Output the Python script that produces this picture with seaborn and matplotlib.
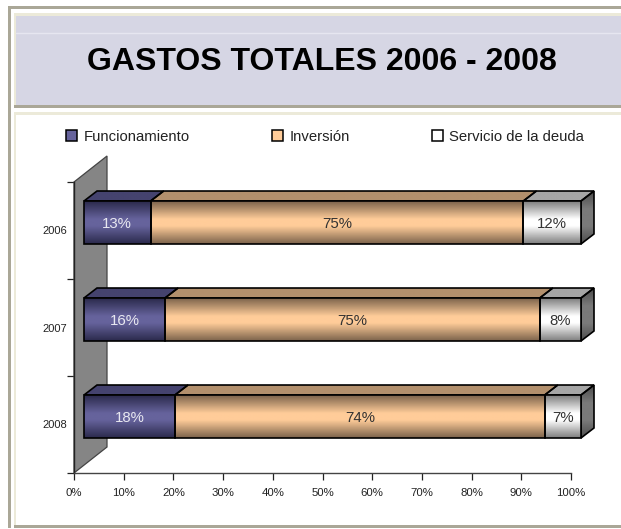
import matplotlib
matplotlib.use("Agg")
import matplotlib.pyplot as plt
import matplotlib.transforms as mtrans
from matplotlib.colors import LinearSegmentedColormap
from matplotlib.patches import Patch, Polygon, Rectangle
import numpy as np
import pandas as pd
import seaborn as sns

years = ["2006", "2007", "2008"]
funcionamiento = [13.4, 16.3, 18.3]
inversion = [75.0, 75.4, 74.4]
servicio = [11.6, 8.3, 7.3]
series_names = ["Funcionamiento", "Inversión", "Servicio de la deuda"]
title = "GASTOS TOTALES 2006 - 2008"

# Colores: (borde, centro, cara superior, color de texto)
styles = [
    ("#2b2a4c", "#66639c", "#45436f", "#e8e8f0"),
    ("#7d644c", "#ffcc99", "#b3906d", "#333333"),
    ("#7f7f7f", "#ffffff", "#a6a6a6", "#333333"),
]

W, H = 621, 529
sns.set_theme(style="white")
plt.rcParams["font.family"] = ["Liberation Sans", "DejaVu Sans"]

fig = plt.figure(figsize=(W / 100, H / 100), dpi=100, facecolor="white")

# Fondo de los paneles en pixeles
bg = fig.add_axes([0, 0, 1, 1], zorder=0)
bg.set_xlim(0, W)
bg.set_ylim(H, 0)
bg.axis("off")
gray = "#aaa797"
cream = "#ecead9"
bg.add_patch(Rectangle((8, 6), W - 8, 2.5, color=gray, lw=0))
bg.add_patch(Rectangle((8, 6), 2.5, H - 7, color=gray, lw=0))
bg.add_patch(Rectangle((14, 13), W - 14, 92, color=cream, lw=0))
bg.add_patch(Rectangle((16, 16), W - 16, 89, color="#d6d6e4", lw=0))
bg.add_line(plt.Line2D([16, W], [33, 33], color="#e6e6f0", lw=1))
bg.add_patch(Rectangle((14, 105), W - 14, 2.5, color=gray, lw=0))
bg.add_patch(Rectangle((14, 112), W - 14, 3, color=cream, lw=0))
bg.add_patch(Rectangle((14, 112), 2, 415, color=cream, lw=0))
bg.add_patch(Rectangle((14, 525), W - 14, 2.5, color=gray, lw=0))
bg.text(322, 62.5, title, ha="center", va="center", fontsize=23, fontweight="bold",
        color="black")

# Eje principal: 0% en x=74, 100% en x=571, y de 182 a 473
x0, x1, y0, y1 = 74, 571, 182, 473
ax = fig.add_axes([x0 / W, 1 - y1 / H, (x1 - x0) / W, (y1 - y0) / H], zorder=1)
ax.patch.set_alpha(0)

table = pd.DataFrame({"year": years, series_names[0]: funcionamiento,
                      series_names[1]: inversion, series_names[2]: servicio})
left = np.zeros(len(years))
for name, style in zip(series_names, styles):
    sns.barplot(data=table, x=name, y="year", orient="y", color=style[1],
                saturation=1, width=0.443, left=left, ax=ax)
    left = left + table[name].values

ax.set_xlim(0, 100)
ax.set_ylim(2.5, -0.5)
ax.set_xlabel("")
ax.set_ylabel("")

# Proyeccion 3D en pixeles -> datos
px_x = 100 / (x1 - x0)
px_y = 3 / (y1 - y0)
bar_tr = ax.transData + mtrans.Affine2D().translate(10, 8)
depth_x, depth_y = 13 * px_x, 10 * px_y


def shaded(poly, colors, z):
    # Rellena un poligono con un degradado vertical
    cmap = LinearSegmentedColormap.from_list("g", colors)
    pts = np.array(poly)
    patch = Polygon(pts, closed=True, transform=bar_tr, facecolor="none",
                    edgecolor="black", lw=1.2, zorder=z + 0.1, clip_on=False)
    ax.add_patch(patch)
    img = ax.imshow(np.linspace(0, 1, 64).reshape(-1, 1), cmap=cmap, aspect="auto",
                    extent=(pts[:, 0].min(), pts[:, 0].max(), pts[:, 1].max(), pts[:, 1].min()),
                    origin="upper", transform=bar_tr, zorder=z, interpolation="bilinear")
    img.set_clip_box(fig.bbox)
    img.set_clip_path(patch)


# Pared gris del fondo
ax.add_patch(Polygon([(0, -0.5), (33 * px_x, -0.5 - 26 * px_y), (33 * px_x, 2.5 - 26 * px_y), (0, 2.5)],
                     closed=True, facecolor="#858585", edgecolor="#444444", lw=0.9, zorder=1,
                     clip_on=False))

for container, style, name in zip(ax.containers, styles, series_names):
    edge, center, top, text_color = style
    front = [(0, edge), (0.42, center), (0.58, center), (1, edge)]
    for patch, v in zip(container, table[name]):
        b = patch.get_bbox()
        xa, xb = b.x0, b.x1
        ya, yb = min(b.y0, b.y1), max(b.y0, b.y1)
        patch.set_visible(False)
        shaded([(xa, ya), (xb, ya), (xb, yb), (xa, yb)], front, 3)
        shaded([(xa, ya), (xb, ya), (xb + depth_x, ya - depth_y), (xa + depth_x, ya - depth_y)],
               [top, top], 2)
        ax.text((xa + xb) / 2, (ya + yb) / 2 + 0.012, f"{v:.0f}%", transform=bar_tr, ha="center",
                va="center", fontsize=10.8, color=text_color, zorder=6)

# Cara lateral derecha
for i in range(len(years)):
    patch = ax.containers[-1][i]
    b = patch.get_bbox()
    ya, yb = min(b.y0, b.y1), max(b.y0, b.y1)
    shaded([(b.x1, ya), (b.x1 + depth_x, ya - depth_y), (b.x1 + depth_x, yb - depth_y), (b.x1, yb)],
           ["#4d4d4d", "#7a7a7a", "#7a7a7a", "#4d4d4d"], 2)

ax.set_xlim(0, 100)
ax.set_ylim(2.5, -0.5)

# Ejes
sns.despine(ax=ax, top=True, right=True)
ax.spines["left"].set_color("#222222")
ax.spines["bottom"].set_color("#444444")
ax.spines["left"].set_linewidth(1)
ax.spines["bottom"].set_linewidth(1)
ax.set_xticks(np.arange(0, 101, 10))
ax.set_xticklabels([f"{t}%" for t in range(0, 101, 10)], fontsize=8.2, color="#222222")
ax.tick_params(axis="x", bottom=True, length=5, width=0.9, color="#222222", pad=6)
ax.set_yticks([-0.5, 0.5, 1.5, 2.5], minor=True)
ax.tick_params(axis="y", which="minor", left=True, length=5, width=0.9, color="#222222")
ax.tick_params(axis="y", which="major", left=False, length=0, pad=5, labelsize=8, labelcolor="#222222")

# Leyenda
handles = [Patch(facecolor=s[1], edgecolor="black", lw=1.1) for s in styles]
fig.legend(handles, series_names, loc="center left", bbox_to_anchor=(66 / W, 1 - 137 / H), ncol=3,
           frameon=False, fontsize=10.7, handlelength=0.75, handleheight=0.75, handletextpad=0.45,
           columnspacing=5.5, labelcolor="#222222", borderaxespad=0, borderpad=0)

fig.savefig("out.png", dpi=100)
